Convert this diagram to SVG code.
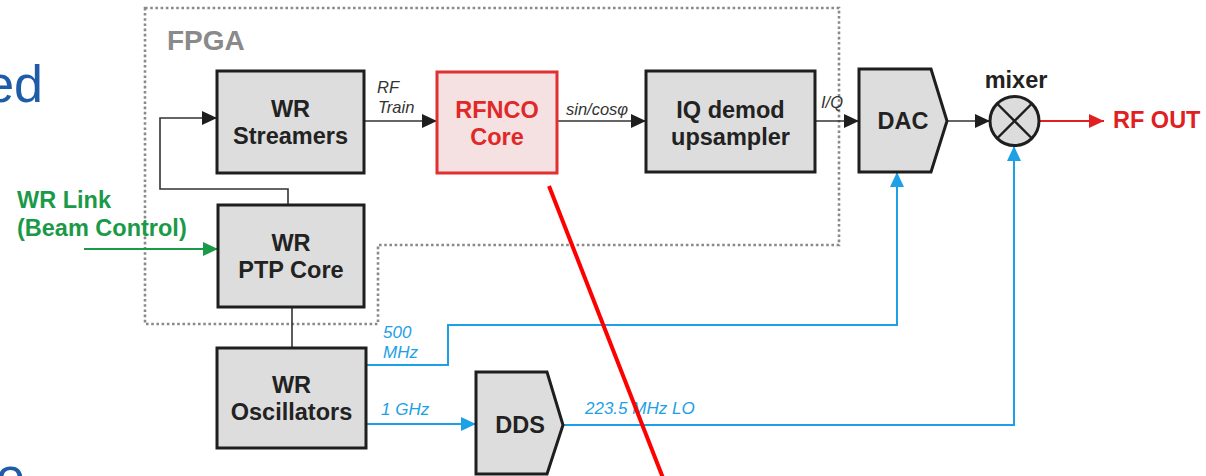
<svg xmlns="http://www.w3.org/2000/svg" width="1206" height="476" viewBox="0 0 1206 476">
<style>
.box{fill:#dddddd;stroke:#1e1e1e;stroke-width:3}
.bt{font-family:"Liberation Sans",Arial,sans-serif;font-weight:bold;font-size:23.5px;fill:#222;text-anchor:middle}
.lbl{font-family:"Liberation Sans",Arial,sans-serif;font-style:italic;font-size:16.5px;fill:#333}
.blbl{font-family:"Liberation Sans",Arial,sans-serif;font-style:italic;font-size:17px;fill:#1ea0e6}
.blk{fill:none;stroke:#333;stroke-width:1.6}
.blu{fill:none;stroke:#1ea0e6;stroke-width:2}
.bg{font-family:"Liberation Sans",Arial,sans-serif;font-size:52px;fill:#1f5ca8}
</style>
<defs>
<marker id="ab" markerUnits="userSpaceOnUse" markerWidth="16" markerHeight="14" refX="15" refY="7" orient="auto"><path d="M0,0 L15,7 L0,14 Z" fill="#1e1e1e"/></marker>
<marker id="au" markerUnits="userSpaceOnUse" markerWidth="16" markerHeight="14" refX="15" refY="7" orient="auto"><path d="M0,0 L15,7 L0,14 Z" fill="#1ea0e6"/></marker>
<marker id="ag" markerUnits="userSpaceOnUse" markerWidth="16" markerHeight="14" refX="15" refY="7" orient="auto"><path d="M0,0 L15,7 L0,14 Z" fill="#1a9a48"/></marker>
<marker id="ar" markerUnits="userSpaceOnUse" markerWidth="16" markerHeight="14" refX="15" refY="7" orient="auto"><path d="M0,0 L15,7 L0,14 Z" fill="#e02020"/></marker>
</defs>

<text class="bg" x="43" y="102" text-anchor="end">ed</text>
<text class="bg" x="-4" y="494">e</text>

<g id="fpga">
<path d="M145,8 H839 V245 H378 V324 H145 Z" fill="none" stroke="#8a8a8a" stroke-width="2.6" stroke-dasharray="2.6 2.6"/>
<text x="167" y="50" font-family="Liberation Sans,Arial,sans-serif" font-weight="bold" font-size="28px" fill="#8a8a8a">FPGA</text>
</g>

<g id="connectors">
<path class="blk" d="M288,205 V189 H160 V118 H217" marker-end="url(#ab)"/>
<path class="blk" d="M364,121 H437" marker-end="url(#ab)"/>
<path class="blk" d="M557,121 H646" marker-end="url(#ab)"/>
<path class="blk" d="M815,121 H859" marker-end="url(#ab)"/>
<path class="blk" d="M947,121 H990" marker-end="url(#ab)"/>
<path class="blk" d="M292,307 V348"/>
<path fill="none" stroke="#1a9a48" stroke-width="2" d="M84,249 H218" marker-end="url(#ag)"/>
<path fill="none" stroke="#e02020" stroke-width="2" d="M1039,121 H1104" marker-end="url(#ar)"/>
<path class="blu" d="M366,365 H448 V325 H897 V172" marker-end="url(#au)"/>
<path class="blu" d="M366,424 H476" marker-end="url(#au)"/>
<path class="blu" d="M563,425 H1014 V146" marker-end="url(#au)"/>
<text class="lbl" x="377" y="93">RF</text>
<text class="lbl" x="378" y="113">Train</text>
<text class="lbl" x="566" y="115" font-size="17px">sin/cosφ</text>
<text class="lbl" x="821" y="108">I/Q</text>
<text class="blbl" x="383" y="338">500</text>
<text class="blbl" x="383" y="358">MHz</text>
<text class="blbl" x="381" y="415">1 GHz</text>
<text class="blbl" x="585" y="414" font-size="17.5px">223.5 MHz LO</text>
</g>

<g id="wr-link">
<text x="17" y="208" font-family="Liberation Sans,Arial,sans-serif" font-weight="bold" font-size="23.5px" fill="#1a9a48">WR Link</text>
<text x="17" y="236" font-family="Liberation Sans,Arial,sans-serif" font-weight="bold" font-size="23.5px" fill="#1a9a48">(Beam Control)</text>
</g>

<g id="wr-streamers">
<rect class="box" x="217" y="71" width="147" height="102"/>
<text class="bt" x="290.5" y="117">WR</text>
<text class="bt" x="290.5" y="144">Streamers</text>
</g>

<g id="rfnco">
<rect x="437" y="72" width="120" height="101" fill="#f5e1e2" stroke="#e03030" stroke-width="3"/>
<text class="bt" x="497" y="118" fill="#e02828" style="fill:#e02828">RFNCO</text>
<text class="bt" x="497" y="145" style="fill:#e02828">Core</text>
</g>

<g id="iq-demod">
<rect class="box" x="646" y="71" width="169" height="101"/>
<text class="bt" x="730.5" y="118">IQ demod</text>
<text class="bt" x="730.5" y="145">upsampler</text>
</g>

<g id="dac">
<path class="box" d="M859,69 H931 L947,121 L931,172 H859 Z"/>
<text class="bt" x="903" y="129">DAC</text>
</g>

<g id="mixer">
<circle cx="1014.5" cy="121" r="24.5" fill="#dcdcdc" stroke="#1e1e1e" stroke-width="3"/>
<path d="M997,103.5 L1032,138.5 M1032,103.5 L997,138.5" stroke="#1e1e1e" stroke-width="2.4"/>
<text class="bt" x="1016" y="88">mixer</text>
</g>

<g id="rf-out">
<text x="1113" y="128" font-family="Liberation Sans,Arial,sans-serif" font-weight="bold" font-size="23.5px" fill="#e02020">RF OUT</text>
</g>

<g id="wr-ptp">
<rect class="box" x="218" y="205" width="146" height="102"/>
<text class="bt" x="291" y="251">WR</text>
<text class="bt" x="291" y="278">PTP Core</text>
</g>

<g id="wr-osc">
<rect class="box" x="217" y="348" width="149" height="100"/>
<text class="bt" x="291.5" y="393">WR</text>
<text class="bt" x="291.5" y="420">Oscillators</text>
</g>

<g id="dds">
<path class="box" d="M476,372 H547 L563,425 L547,474 H476 Z"/>
<text class="bt" x="520" y="433">DDS</text>
</g>

<line x1="549" y1="186" x2="663" y2="478" stroke="#ff0000" stroke-width="4"/>
</svg>
